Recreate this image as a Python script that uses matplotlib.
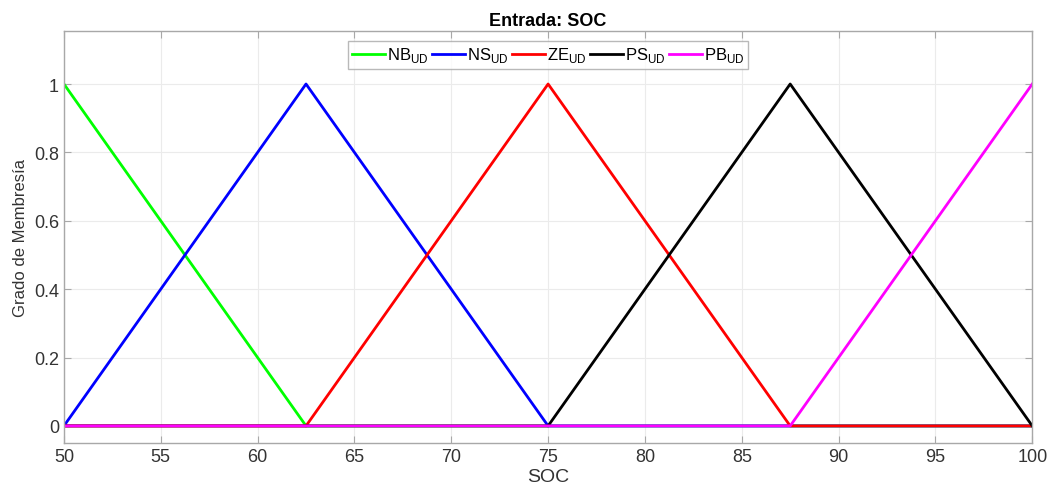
import matplotlib.pyplot as plt

plt.rcParams['font.family'] = ['Liberation Sans', 'DejaVu Sans']

# membership function vertices (SOC, grade)
soc_nb = [50, 62.5, 100]
mu_nb = [1, 0, 0]
soc_ns = [50, 62.5, 75, 100]
mu_ns = [0, 1, 0, 0]
soc_ze = [50, 62.5, 75, 87.5, 100]
mu_ze = [0, 0, 1, 0, 0]
soc_ps = [50, 75, 87.5, 100]
mu_ps = [0, 0, 1, 0]
soc_pb = [50, 87.5, 100]
mu_pb = [0, 0, 1]

names = ['NB$_{\\mathregular{UD}}$', 'NS$_{\\mathregular{UD}}$', 'ZE$_{\\mathregular{UD}}$',
         'PS$_{\\mathregular{UD}}$', 'PB$_{\\mathregular{UD}}$']
colors = ['#00ff00', '#0000ff', '#ff0000', '#000000', '#ff00ff']

xticks = [50, 55, 60, 65, 70, 75, 80, 85, 90, 95, 100]
yticks = [0, 0.2, 0.4, 0.6, 0.8, 1]

fig = plt.figure(figsize=(10.48, 4.85), dpi=100)
ax = fig.add_axes([0.061, 0.0845, 0.924, 0.8495])

series = [(soc_nb, mu_nb), (soc_ns, mu_ns), (soc_ze, mu_ze), (soc_ps, mu_ps), (soc_pb, mu_pb)]
for (xs, ys), name, c in zip(series, names, colors):
    ax.plot(xs, ys, color=c, lw=2.0, label=name)

ax.set_xlim(50, 100)
ax.set_ylim(-0.05, 1.155)
ax.set_xticks(xticks)
ax.set_yticks(yticks)
ax.set_yticklabels(['0', '0.2', '0.4', '0.6', '0.8', '1'])
ax.grid(True, color='#ebebeb', lw=0.8)
ax.set_axisbelow(True)
ax.tick_params(direction='in', length=5, labelsize=13, color='#a8a8a8',
               labelcolor='#333333', top=True, right=True)
for s in ax.spines.values():
    s.set_color('#a8a8a8')
    s.set_linewidth(1.0)

ax.set_xlabel('SOC', fontsize=14, color='#333333', labelpad=2)
ax.set_ylabel('Grado de Membresía', fontsize=12, color='#333333', labelpad=4)
ax.set_title('Entrada: SOC', fontsize=13, fontweight='bold', pad=4)

leg = ax.legend(loc='upper center', ncol=5, fontsize=12, bbox_to_anchor=(0.5, 0.975),
                frameon=True, fancybox=False, handlelength=2.0, handletextpad=0.1,
                columnspacing=0.2, borderpad=0.25, borderaxespad=0)
leg.get_frame().set_edgecolor('#a8a8a8')
leg.get_frame().set_linewidth(1.0)

fig.savefig('out.png', dpi=100)
